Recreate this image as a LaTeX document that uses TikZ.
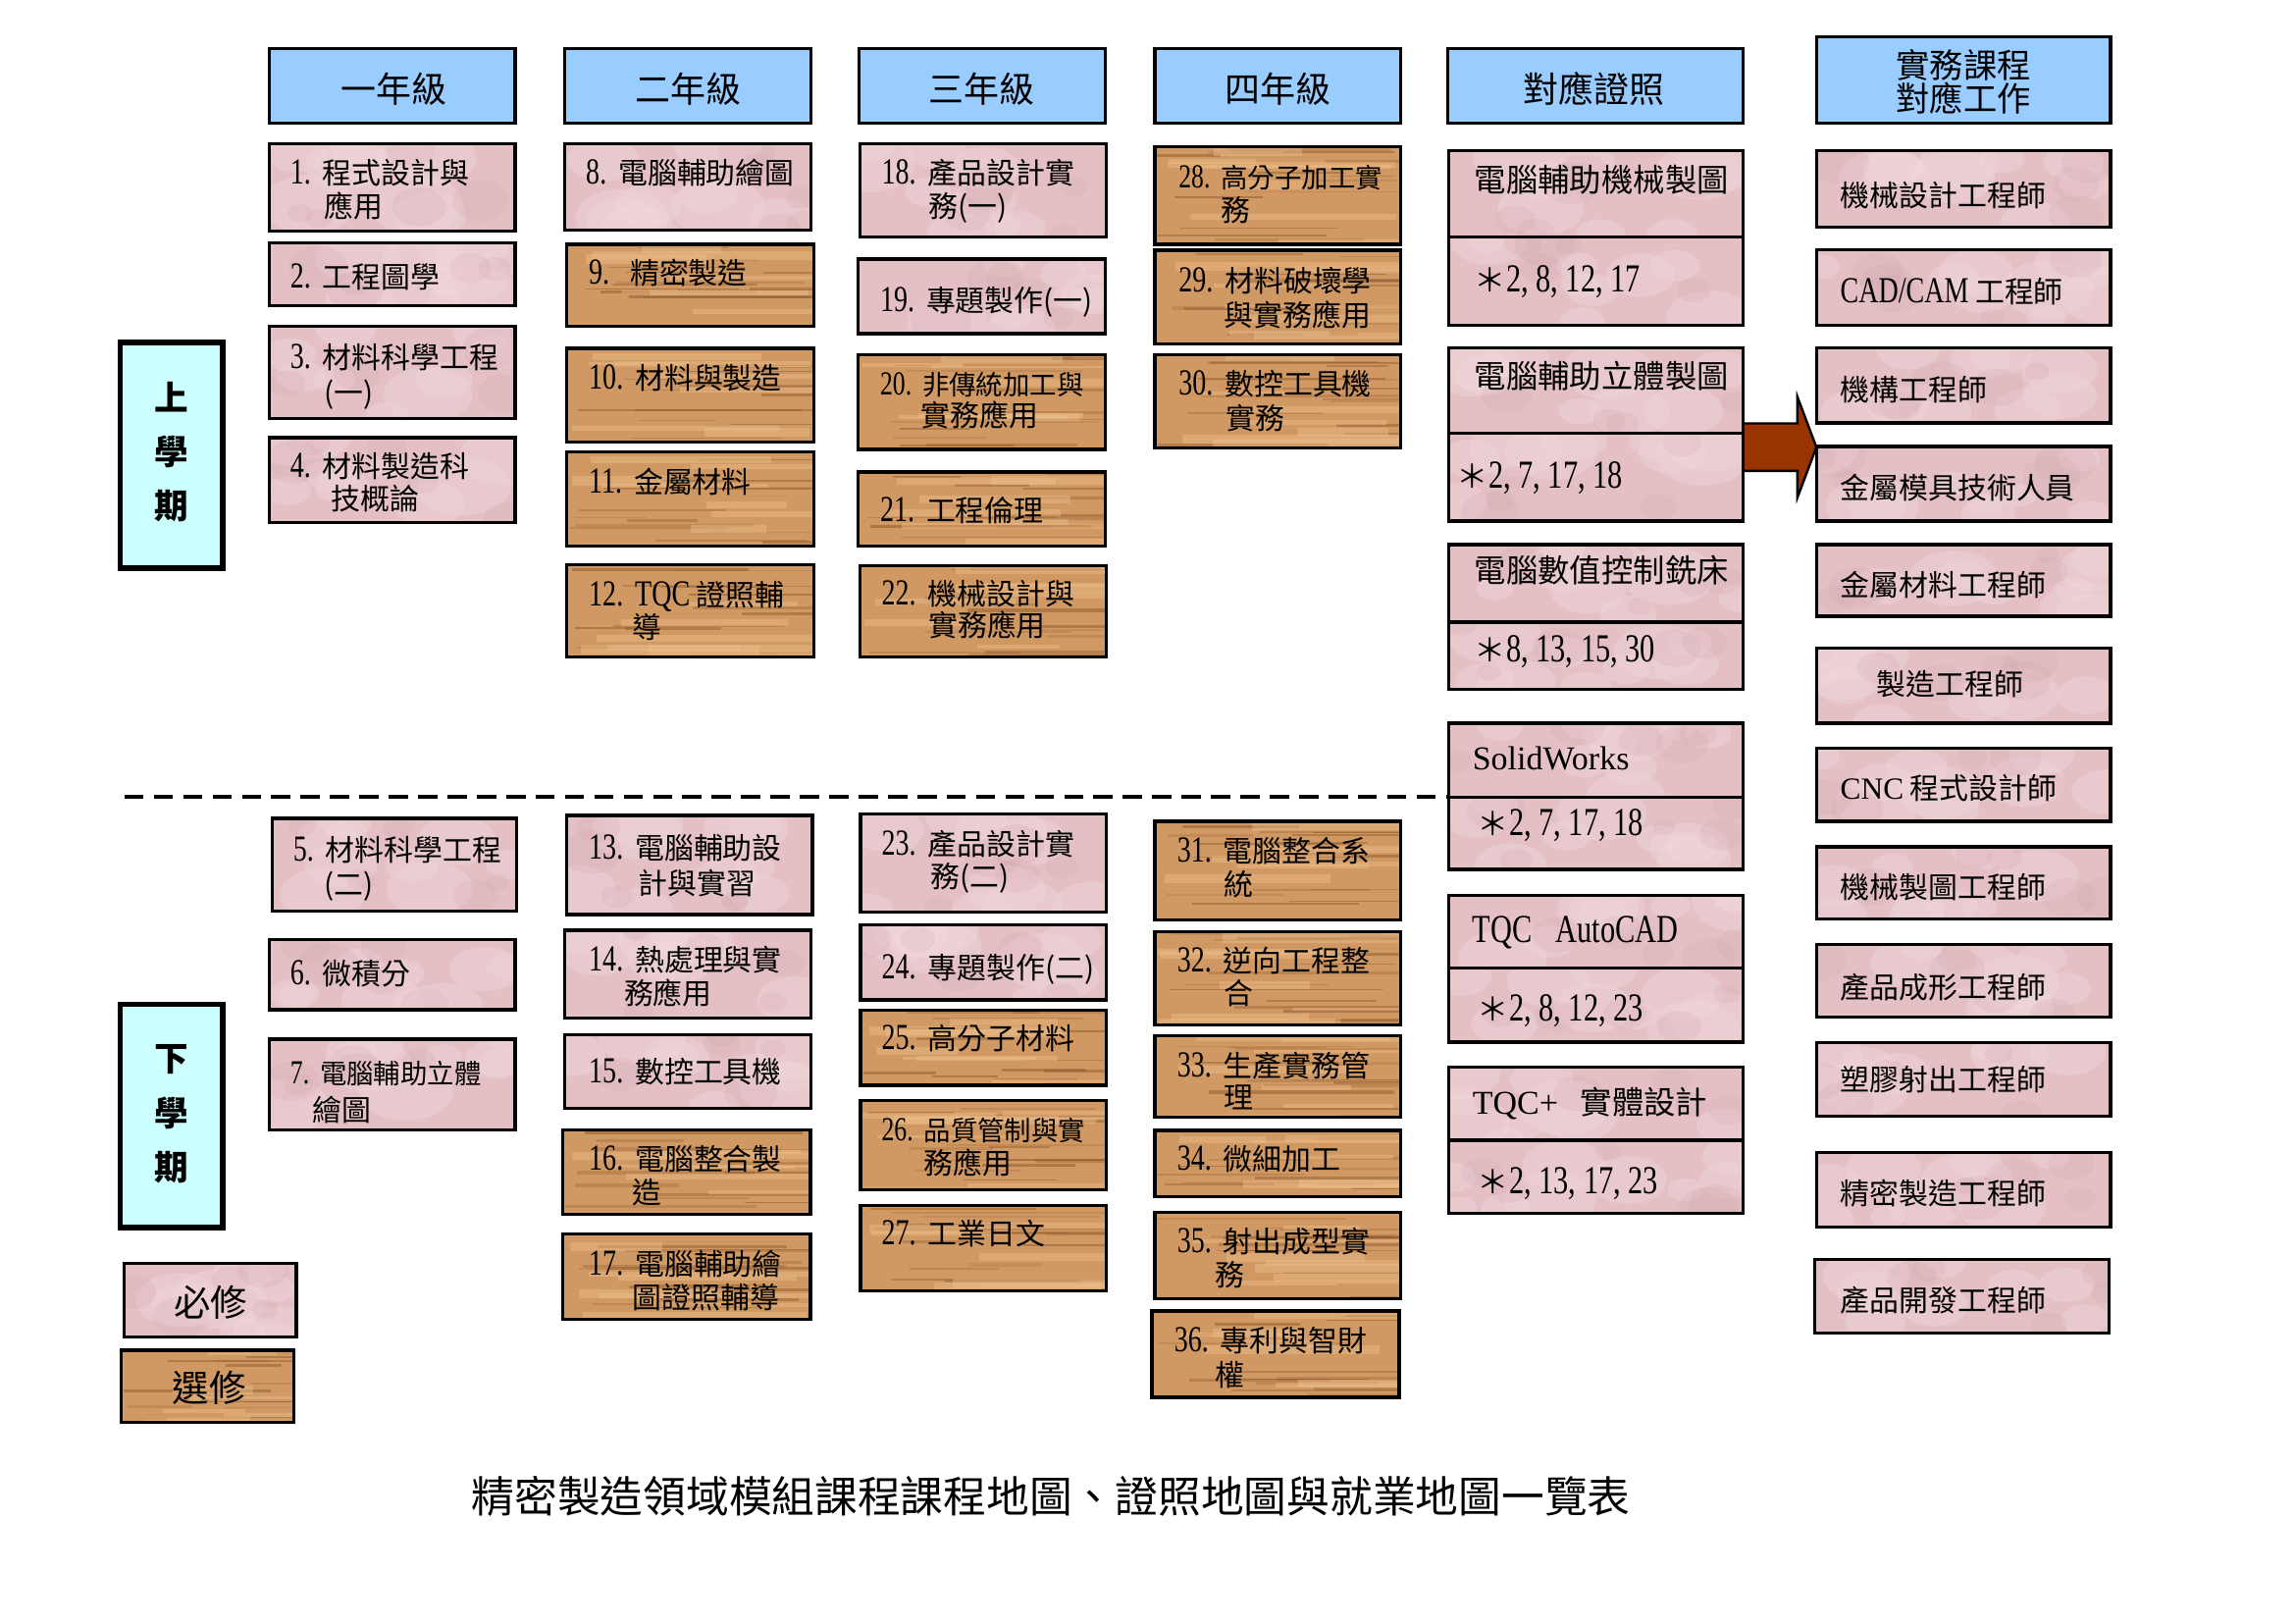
\documentclass[tikz,border=0pt]{standalone}
\usepackage{fontspec}
\setmainfont{Noto Sans CJK TC}
\newfontfamily\lat[Scale=1.25,FakeStretch=0.75]{Liberation Serif}
\newfontfamily\latn[Scale=1.05]{Liberation Serif}
\usetikzlibrary{calc}
\definecolor{pinkc}{RGB}{228,192,197}
\definecolor{pinkhi}{RGB}{242,218,221}
\definecolor{pinklo}{RGB}{205,160,168}
\definecolor{woodc}{RGB}{208,152,98}
\definecolor{wooddark}{RGB}{130,78,36}
\definecolor{woodlight}{RGB}{236,190,140}
\definecolor{hdrblue}{RGB}{153,204,255}
\definecolor{semcyan}{RGB}{204,255,255}
\definecolor{arrowc}{RGB}{153,51,0}
\def\un{0.18941mm}
\newcommand\woodgrain{%
  \foreach \k in {1,...,14}{%
    \pgfmathsetmacro\wy{rnd}%
    \pgfmathsetmacro\wxa{rnd*0.8}%
    \pgfmathsetmacro\wxb{\wxa+0.25+0.7*rnd}%
    \pgfmathsetmacro\wo{0.15+0.3*rnd}%
    \pgfmathsetmacro\ww{0.3+1.0*rnd}%
    \draw[wooddark, opacity=\wo, line width=\ww pt]
      let \p1=(path picture bounding box.south west), \p2=(path picture bounding box.north east) in
      ({\x1+\wxa*(\x2-\x1)},{\y1+\wy*(\y2-\y1)}) -- ({\x1+\wxb*(\x2-\x1)},{\y1+\wy*(\y2-\y1)});
  }%
  \foreach \k in {1,...,7}{%
    \pgfmathsetmacro\wy{rnd}%
    \pgfmathsetmacro\wxa{rnd*0.6}%
    \pgfmathsetmacro\wxb{\wxa+0.3+0.7*rnd}%
    \pgfmathsetmacro\ww{1+2.5*rnd}%
    \draw[woodlight, opacity=0.45, line width=\ww pt]
      let \p1=(path picture bounding box.south west), \p2=(path picture bounding box.north east) in
      ({\x1+\wxa*(\x2-\x1)},{\y1+\wy*(\y2-\y1)}) -- ({\x1+\wxb*(\x2-\x1)},{\y1+\wy*(\y2-\y1)});
  }}
\newcommand\marble{%
  \foreach \k in {1,...,9}{%
    \pgfmathsetmacro\mx{rnd}\pgfmathsetmacro\my{rnd}\pgfmathsetmacro\mr{4+7*rnd}%
    \fill[pinkhi, opacity=0.35]
      let \p1=(path picture bounding box.south west), \p2=(path picture bounding box.north east) in
      ({\x1+\mx*(\x2-\x1)},{\y1+\my*(\y2-\y1)}) ellipse[x radius=1.6*\mr pt, y radius=\mr pt];
  }%
  \foreach \k in {1,...,5}{%
    \pgfmathsetmacro\mx{rnd}\pgfmathsetmacro\my{rnd}\pgfmathsetmacro\mr{3+5*rnd}%
    \fill[pinklo, opacity=0.18]
      let \p1=(path picture bounding box.south west), \p2=(path picture bounding box.north east) in
      ({\x1+\mx*(\x2-\x1)},{\y1+\my*(\y2-\y1)}) ellipse[x radius=1.4*\mr pt, y radius=\mr pt];
  }}
\tikzset{
  bxs/.style={draw=black, line width=0.42mm, inner sep=0pt, outer sep=0pt, anchor=north west},
  pinkbox/.style={bxs, fill=pinkc, path picture={\marble}},
  woodbox/.style={bxs, fill=woodc, path picture={\woodgrain}},
  hdrbox/.style={bxs, fill=hdrblue},
  sembox/.style={bxs, fill=semcyan, line width=0.7mm},
  ct/.style={anchor=base west, inner sep=0pt, font=\fontsize{10.8}{12}\selectfont},
  cts/.style={font=\fontsize{9.9}{11}\selectfont},
  cert/.style={font=\fontsize{11.7}{13}\selectfont},
  ht/.style={inner sep=0pt, font=\fontsize{13}{14}\selectfont},
  semt/.style={inner sep=0pt, align=center, font=\bfseries\fontsize{12.5}{19.9}\selectfont},
  sepline/.style={line width=0.55mm, dash pattern=on 2.5mm off 1.3mm},
  arrowst/.style={fill=arrowc, draw=black, line width=0.3mm, line join=miter}
}
\newcommand\bx[6]{\node[#2, minimum width={(#5-#3)*\un}, minimum height={(#6-#4)*\un}] (#1) at (#3,#4) {};}
\newcommand\tx[5][]{\node[ct,#1] (#2) at (#3,{#4+8}) {#5};}
\newcommand\nm[1]{{\lat #1}\hspace{0.4em}}
\begin{document}
\begin{tikzpicture}[x=\un,y=-\un]
\pgfmathsetseed{12}
\fill[white] (0,0) rectangle (1568,1109);
\useasboundingbox (0,0) rectangle (1568,1109);
% headers
\bx{h1}{hdrbox}{184}{33}{352}{84}
\bx{h2}{hdrbox}{386}{33}{554}{84}
\bx{h3}{hdrbox}{587}{33}{755}{84}
\bx{h4}{hdrbox}{789}{33}{957}{84}
\bx{h5}{hdrbox}{989}{33}{1191}{84}
\bx{h6}{hdrbox}{1241}{25}{1442}{84}
\node[ht] (h1t) at (269,61) {一年級};
\node[ht] (h2t) at (470,61) {二年級};
\node[ht] (h3t) at (671,61) {三年級};
\node[ht] (h4t) at (873,61) {四年級};
\node[ht] (h5t) at (1089,61) {對應證照};
\node[ht, align=center, font=\fontsize{12.4}{12.4}\selectfont] (h6t) at (1341.5,56) {實務課程\\對應工作};
% semesters
\bx{s1}{sembox}{82}{234}{152}{388}
\bx{s2}{sembox}{82}{686}{152}{838.6}
\node[semt] (s1t) at (117,309) {上\\學\\期};
\node[semt] (s2t) at (117,761) {下\\學\\期};
% legend
\bx{l1}{pinkbox}{85}{863}{202.5}{913.4}
\bx{l2}{woodbox}{83}{922.5}{201}{971.8}
\node[ht, font=\fontsize{13.5}{14}\selectfont] (l1t) at (144,889.5) {必修};
\node[ht, font=\fontsize{13.5}{14}\selectfont] (l2t) at (143,948) {選修};
% separator
\coordinate (sepstart) at (85,544.5);
% column 1
\bx{b1}{pinkbox}{184}{98}{352}{158}
\bx{b2}{pinkbox}{184}{166}{352}{209}
\bx{b3}{pinkbox}{184}{223}{352}{286}
\bx{b4}{pinkbox}{184}{299}{352}{357}
\bx{b5}{pinkbox}{186}{559}{353}{622.6}
\bx{b6}{pinkbox}{184}{641.7}{352}{689.8}
\bx{b7}{pinkbox}{184}{710}{352}{772}
% column 2
\bx{b8}{pinkbox}{386}{98}{554}{157}
\bx{b9}{woodbox}{387}{167}{556}{223}
\bx{b10}{woodbox}{387}{238}{556}{302}
\bx{b11}{woodbox}{387}{308.5}{556}{373}
\bx{b12}{woodbox}{387}{386}{556}{449}
\bx{b13}{pinkbox}{387}{557}{555}{624.7}
\bx{b14}{pinkbox}{386}{635.5}{554}{695.6}
\bx{b15}{pinkbox}{386}{707}{554}{757}
\bx{b16}{woodbox}{384.5}{772}{553.7}{829.7}
\bx{b17}{woodbox}{384.5}{843}{553.7}{901.5}
% column 3
\bx{b18}{pinkbox}{587.5}{98}{756}{162}
\bx{b19}{pinkbox}{586}{177}{755}{228}
\bx{b20}{woodbox}{586}{242.5}{755}{307}
\bx{b21}{woodbox}{586}{322.4}{755}{373}
\bx{b22}{woodbox}{587.5}{386.5}{756}{449}
\bx{b23}{pinkbox}{588}{556}{756}{623}
\bx{b24}{pinkbox}{588}{632}{756}{683}
\bx{b25}{woodbox}{588}{690}{756}{741.5}
\bx{b26}{woodbox}{588}{752}{756}{813}
\bx{b27}{woodbox}{588}{823.6}{756}{882}
% column 4
\bx{b28}{woodbox}{789}{100.4}{957}{167}
\bx{b29}{woodbox}{789}{171}{957}{235}
\bx{b30}{woodbox}{789}{242.5}{957}{306}
\bx{b31}{woodbox}{789}{561}{957}{628.6}
\bx{b32}{woodbox}{789}{636.6}{957}{700.3}
\bx{b33}{woodbox}{789}{707.5}{957}{763}
\bx{b34}{woodbox}{789}{772.2}{957}{817.7}
\bx{b35}{woodbox}{789}{828}{957}{887}
\bx{b36}{woodbox}{787}{895.5}{956}{954.6}
% certificates
\bx{c1a}{pinkbox}{990}{103}{1191}{162}
\bx{c1b}{pinkbox}{990}{162}{1191}{222}
\bx{c2a}{pinkbox}{990}{237.5}{1191}{296}
\bx{c2b}{pinkbox}{990}{296}{1191}{356}
\bx{c3a}{pinkbox}{990}{372}{1191}{425}
\bx{c3b}{pinkbox}{990}{425}{1191}{471}
\bx{c4a}{pinkbox}{990}{494}{1191}{544.5}
\bx{c4b}{pinkbox}{990}{544.5}{1191}{594}
\bx{c5a}{pinkbox}{990}{611.5}{1191}{661.5}
\bx{c5b}{pinkbox}{990}{661.5}{1191}{712}
\bx{c6a}{pinkbox}{990}{729}{1191}{779}
\bx{c6b}{pinkbox}{990}{779}{1191}{829}
% jobs
\bx{j1}{pinkbox}{1241}{103}{1442}{155}
\bx{j2}{pinkbox}{1241}{170.5}{1442}{222}
\bx{j3}{pinkbox}{1241}{237.7}{1442}{289}
\bx{j4}{pinkbox}{1241}{305}{1442}{356}
\bx{j5}{pinkbox}{1241}{372}{1442}{421}
\bx{j6}{pinkbox}{1241}{443}{1442}{494}
\bx{j7}{pinkbox}{1241}{511}{1442}{561}
\bx{j8}{pinkbox}{1241}{578.5}{1442}{628}
\bx{j9}{pinkbox}{1241}{645}{1442}{695}
\bx{j10}{pinkbox}{1241}{712.3}{1442}{762.5}
\bx{j11}{pinkbox}{1241}{787.4}{1442}{838.2}
\bx{j12}{pinkbox}{1240}{860.4}{1441}{910.6}
% dashed separator
\draw[sepline] (sepstart) -- (c4b.north west);
% arrow
\path (c2a.south east) ++(0,9.5) coordinate (ab);
\path (ab -| j4.west) coordinate (at);
\filldraw[arrowst] ($(ab)+(0,-16.2)$) -- ($(at)+(-13,-16.2)$) -- ($(at)+(-13,-34.5)$) -- (at)
  -- ($(at)+(-13,34.5)$) -- ($(at)+(-13,16.2)$) -- ($(ab)+(0,16.2)$) -- cycle;
% course texts column 1
\tx{t1}{198}{118}{\nm{1.}程式設計與}
\tx{t1b}{221}{140.5}{應用}
\tx{t2}{198}{189}{\nm{2.}工程圖學}
\tx{t3}{198}{244}{\nm{3.}材料科學工程}
\tx{t3b}{221}{268}{(一)}
\tx{t4}{198}{318}{\nm{4.}材料製造科}
\tx{t4b}{226}{340}{技概論}
\tx{t5}{200}{580}{\nm{5.}材料科學工程}
\tx{t5b}{221}{604}{(二)}
\tx{t6}{198}{665}{\nm{6.}微積分}
\tx[cts]{t7}{198}{732.4}{\nm{7.}電腦輔助立體}
\tx{t7b}{213}{758}{繪圖}
% column 2
\tx{t8}{400}{118}{\nm{8.}電腦輔助繪圖}
\tx{t9}{402}{186}{\nm{9.}\hspace{0.3em}精密製造}
\tx{t10}{402}{258}{\nm{10.}材料與製造}
\tx{t11}{402}{329}{\nm{11.}金屬材料}
\tx{t12}{402}{406}{\nm{12.}{\lat TQC} 證照輔}
\tx{t12b}{432}{428}{導}
\tx{t13}{402}{579}{\nm{13.}電腦輔助設}
\tx{t13b}{436}{603}{計與實習}
\tx{t14}{402}{655}{\nm{14.}熱處理與實}
\tx{t14b}{426}{678}{務應用}
\tx{t15}{402}{731.5}{\nm{15.}數控工具機}
\tx{t16}{402}{791.3}{\nm{16.}電腦整合製}
\tx{t16b}{432}{814}{造}
\tx{t17}{402}{863}{\nm{17.}電腦輔助繪}
\tx{t17b}{432}{885.6}{圖證照輔導}
% column 3
\tx{t18}{602}{118}{\nm{18.}產品設計實}
\tx{t18b}{634}{140.5}{務(一)}
\tx{t19}{601}{205}{\nm{19.}專題製作(一)}
\tx[cts]{t20}{601}{262}{\nm{20.}非傳統加工與}
\tx{t20b}{629}{283.3}{實務應用}
\tx{t21}{601}{348}{\nm{21.}工程倫理}
\tx{t22}{602}{405}{\nm{22.}機械設計與}
\tx{t22b}{634}{427}{實務應用}
\tx{t23}{602}{576}{\nm{23.}產品設計實}
\tx{t23b}{635.5}{598.3}{務(二)}
\tx{t24}{602}{660.5}{\nm{24.}專題製作(二)}
\tx{t25}{602}{709}{\nm{25.}高分子材料}
\tx[cts]{t26}{602}{771.3}{\nm{26.}品質管制與實}
\tx{t26b}{630.7}{794.3}{務應用}
\tx{t27}{602}{842.2}{\nm{27.}工業日文}
% column 4
\tx[cts]{t28}{805}{120.6}{\nm{28.}高分子加工實}
\tx{t28b}{834}{143.4}{務}
\tx{t29}{805}{191.4}{\nm{29.}材料破壞學}
\tx{t29b}{836}{215}{與實務應用}
\tx{t30}{805}{262}{\nm{30.}數控工具機}
\tx{t30b}{837}{285}{實務}
\tx{t31}{804}{581.2}{\nm{31.}電腦整合系}
\tx{t31b}{836}{603.7}{統}
\tx{t32}{804}{656}{\nm{32.}逆向工程整}
\tx{t32b}{836}{678.4}{合}
\tx{t33}{804}{727.9}{\nm{33.}生產實務管}
\tx{t33b}{836}{749.5}{理}
\tx{t34}{804}{791.3}{\nm{34.}微細加工}
\tx{t35}{804}{847.6}{\nm{35.}射出成型實}
\tx{t35b}{830}{870.6}{務}
\tx{t36}{802}{915.5}{\nm{36.}專利與智財}
\tx{t36b}{830}{938.9}{權}
% certificate texts
\tx[cert]{c1t}{1007}{123}{電腦輔助機械製圖}
\tx[cert]{c1n}{1007}{191.4}{＊{\lat 2, 8, 12, 17}}
\tx[cert]{c2t}{1007}{257.4}{電腦輔助立體製圖}
\tx[cert]{c2n}{995}{325.8}{＊{\lat 2, 7, 17, 18}}
\tx[cert]{c3t}{1007}{390}{電腦數值控制銑床}
\tx[cert]{c3n}{1007}{444}{＊{\lat 8, 13, 15, 30}}
\tx[cert]{c4t}{1005.7}{518}{{\latn SolidWorks}}
\tx[cert]{c4n}{1009}{562.7}{＊{\lat 2, 7, 17, 18}}
\tx[cert]{c5t}{1005.7}{636}{{\lat TQC\hspace{0.6em}AutoCAD}}
\tx[cert]{c5n}{1009}{689.8}{＊{\lat 2, 8, 12, 23}}
\tx[cert]{c6t}{1005.7}{753.5}{{\latn TQC+}\hspace{0.7em}實體設計}
\tx[cert]{c6n}{1009}{807.4}{＊{\lat 2, 13, 17, 23}}
% job texts
\tx{j1t}{1257}{133.3}{機械設計工程師}
\tx{j2t}{1257}{198.6}{{\lat CAD/CAM} 工程師}
\tx{j3t}{1257}{265.8}{機構工程師}
\tx{j4t}{1257}{333}{金屬模具技術人員}
\tx{j5t}{1257}{399}{金屬材料工程師}
\tx{j6t}{1282}{467}{製造工程師}
\tx{j7t}{1257}{538}{{\latn CNC} 程式設計師}
\tx{j8t}{1257}{606}{機械製圖工程師}
\tx{j9t}{1257}{674.3}{產品成形工程師}
\tx{j10t}{1257}{737}{塑膠射出工程師}
\tx{j11t}{1257}{815}{精密製造工程師}
\tx{j12t}{1257}{888}{產品開發工程師}
% title
\node[inner sep=0pt, font=\fontsize{15.8}{16}\selectfont] (title) at (718,1022) {精密製造領域模組課程課程地圖、證照地圖與就業地圖一覽表};
\end{tikzpicture}
\end{document}
